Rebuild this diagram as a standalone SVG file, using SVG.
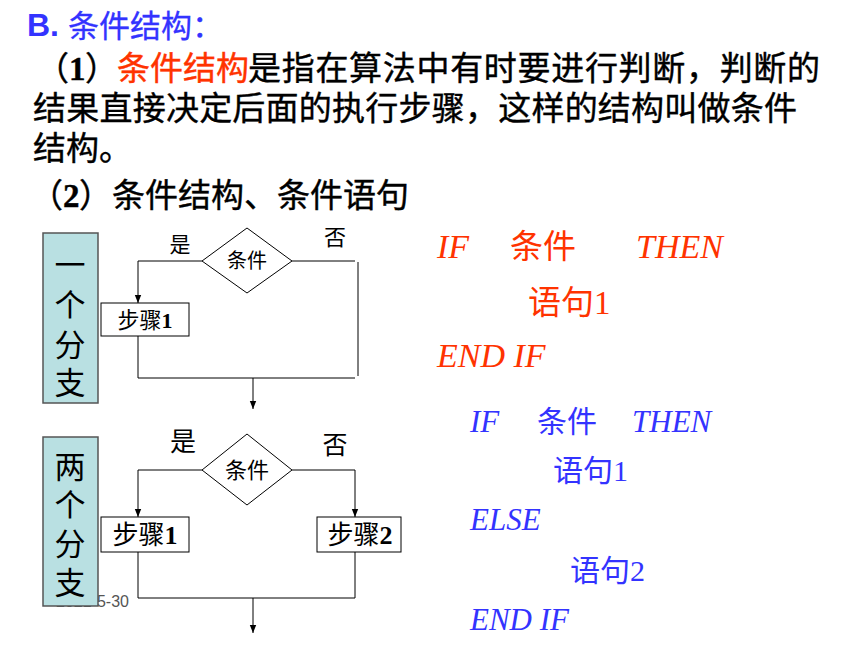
<svg xmlns="http://www.w3.org/2000/svg" width="860" height="645" viewBox="0 0 860 645">
<defs>
<marker id="arr" viewBox="0 0 10 10" refX="10" refY="5" markerWidth="8" markerHeight="8" orient="auto" markerUnits="userSpaceOnUse">
<path d="M0,1 L10,5 L0,9 Z" fill="#000"/>
</marker>
<style>
.cjk{font-family:"Noto Sans CJK SC","Noto Sans",sans-serif;}
.ser{font-family:"Liberation Serif","Noto Sans CJK SC",serif;}
.body{font-size:33px;fill:#000;stroke:#000;stroke-width:0.4;}
.red{fill:#FF3300;}
.blue{fill:#3333FF;}
.body .red{stroke:#FF3300;}
.it{font-family:"Liberation Serif",serif;font-style:italic;}
.side{fill:#B9E0E2;stroke:#555;stroke-width:1.5;}
.box{fill:#fff;stroke:#000;stroke-width:1;}
.dia{fill:#fff;stroke:#000;stroke-width:1;}
.ln{fill:none;stroke:#000;stroke-width:1;}
.vt{font-family:"Noto Sans CJK SC",sans-serif;font-size:31px;fill:#000;text-anchor:middle;}
</style>
</defs>
<rect width="860" height="645" fill="#fff"/>

<!-- Header text -->
<text x="27" y="36" font-size="32" font-family="Liberation Sans, sans-serif" font-weight="bold" class="blue">B.</text>
<text x="68" y="37" font-size="31" class="blue cjk" stroke="#3333FF" stroke-width="0.3">条件结构：</text>
<text y="80" class="body cjk"><tspan x="36">（</tspan><tspan x="69" font-family="Liberation Serif, serif" font-weight="bold">1</tspan><tspan x="85">）</tspan><tspan x="117" class="red">条件结构</tspan><tspan x="248" textLength="572">是指在算法中有时要进行判断，判断的</tspan></text>
<text x="33" y="120" class="body cjk" textLength="764">结果直接决定后面的执行步骤，这样的结构叫做条件</text>
<text x="33" y="160" class="body cjk">结构。</text>
<text y="207" class="body cjk"><tspan x="30">（</tspan><tspan x="63" font-family="Liberation Serif, serif" font-weight="bold">2</tspan><tspan x="79">）条件结构、条件语句</tspan></text>

<!-- footer date behind box -->
<text x="129" y="607" font-family="Liberation Sans, sans-serif" font-size="16" fill="#555" text-anchor="end">2021-5-30</text>

<!-- Diagram 1 -->
<g id="side1">
<rect class="side" x="43" y="233" width="55" height="170"/>
<text class="vt" x="70" y="276">一</text>
<text class="vt" x="70" y="316">个</text>
<text class="vt" x="70" y="356">分</text>
<text class="vt" x="70" y="394">支</text>
</g>
<g id="cond1">
<polygon class="dia" points="247,228 292,261 247,293 202,261"/>
<text x="247" y="268" class="cjk" font-size="20" text-anchor="middle">条件</text>
</g>
<g id="step1a">
<rect class="box" x="101" y="303" width="88" height="33"/>
<text x="145" y="328" font-size="22" text-anchor="middle" class="cjk"><tspan>步骤</tspan><tspan font-family="Liberation Serif, serif" font-weight="bold">1</tspan></text>
</g>
<g id="labels1" class="cjk">
<text x="180" y="252" font-size="21" text-anchor="middle">是</text>
<text x="335" y="245" font-size="22" text-anchor="middle">否</text>
</g>

<!-- Diagram 2 -->
<g id="side2">
<rect class="side" x="43" y="437" width="55" height="169"/>
<text class="vt" x="70" y="478">两</text>
<text class="vt" x="70" y="516">个</text>
<text class="vt" x="70" y="555">分</text>
<text class="vt" x="70" y="594">支</text>
</g>
<g id="cond2">
<polygon class="dia" points="247,434 292,470 247,505 202,470"/>
<text x="247" y="478" class="cjk" font-size="22" text-anchor="middle">条件</text>
</g>
<g id="step1b">
<rect class="box" x="101" y="517" width="88" height="35"/>
<text x="145" y="544" font-size="26" text-anchor="middle" class="cjk"><tspan>步骤</tspan><tspan font-family="Liberation Serif, serif" font-weight="bold">1</tspan></text>
</g>
<g id="step2b">
<rect class="box" x="317" y="517" width="84" height="35"/>
<text x="360" y="544" font-size="26" text-anchor="middle" class="cjk"><tspan>步骤</tspan><tspan font-family="Liberation Serif, serif" font-weight="bold">2</tspan></text>
</g>
<g id="labels2" class="cjk">
<text x="183" y="451" font-size="26" text-anchor="middle">是</text>
<text x="335" y="454" font-size="25" text-anchor="middle">否</text>
</g>

<!-- Connectors -->
<g id="connectors">
<polyline class="ln" points="202,261 138,261 138,303" marker-end="url(#arr)"/>
<line class="ln" x1="292" y1="261" x2="355" y2="261"/>
<line class="ln" x1="358" y1="262" x2="358" y2="376"/>
<polyline class="ln" points="138,336 138,378 355,378"/>
<line class="ln" x1="253" y1="378" x2="253" y2="409" marker-end="url(#arr)"/>

<polyline class="ln" points="202,470 138,470 138,517" marker-end="url(#arr)"/>
<polyline class="ln" points="292,470 355,470 355,517" marker-end="url(#arr)"/>
<polyline class="ln" points="138,552 138,598 355,598 355,552"/>
<line class="ln" x1="253" y1="598" x2="253" y2="633" marker-end="url(#arr)"/>
</g>

<!-- Code block 1 (red) -->
<g id="code1" class="red">
<text x="437" y="258" font-size="34" class="it">IF</text>
<text x="510" y="258" font-size="33" class="cjk">条件</text>
<text x="636" y="258" font-size="34" class="it">THEN</text>
<text x="528" y="314" font-size="33" class="ser">语句1</text>
<text x="437" y="367" font-size="34" class="it">END IF</text>
</g>

<!-- Code block 2 (blue) -->
<g id="code2" class="blue">
<text x="470" y="432" font-size="31" class="it">IF</text>
<text x="537" y="432" font-size="30" class="cjk">条件</text>
<text x="632" y="432" font-size="31" class="it">THEN</text>
<text x="553" y="481" font-size="30" class="ser">语句1</text>
<text x="470" y="530" font-size="31" class="it">ELSE</text>
<text x="570" y="581" font-size="30" class="ser">语句2</text>
<text x="470" y="630" font-size="31" class="it">END IF</text>
</g>
</svg>
